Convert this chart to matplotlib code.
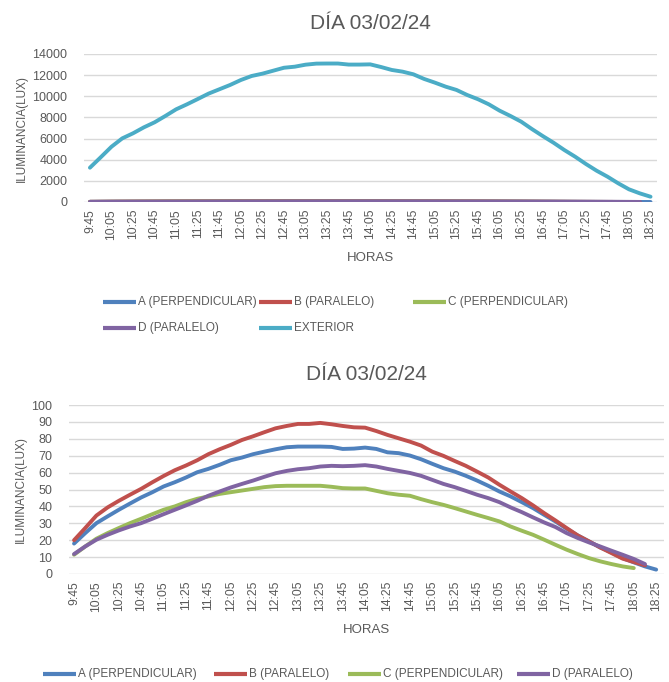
import numpy as np
import matplotlib
matplotlib.use("Agg")
import matplotlib.pyplot as plt
from matplotlib.lines import Line2D

plt.rcParams['font.family'] = ['Liberation Sans', 'DejaVu Sans']

# horas de medida (cada 10 minutos)
horas = ["9:45", "9:55", "10:05", "10:15", "10:25", "10:35", "10:45", "10:55",
         "11:05", "11:15", "11:25", "11:35", "11:45", "11:55", "12:05", "12:15",
         "12:25", "12:35", "12:45", "12:55", "13:05", "13:15", "13:25", "13:35",
         "13:45", "13:55", "14:05", "14:15", "14:25", "14:35", "14:45", "14:55",
         "15:05", "15:15", "15:25", "15:35", "15:45", "15:55", "16:05", "16:15",
         "16:25", "16:35", "16:45", "16:55", "17:05", "17:15", "17:25", "17:35",
         "17:45", "17:55", "18:05", "18:15", "18:25"]

nan = np.nan
a_perp = [18, 24.2, 30.1, 34.1, 38, 41.7, 45.3, 48.4, 51.8, 54.3, 57.1, 60.2, 62.2,
          64.6, 67.3, 68.9, 70.9, 72.4, 73.8, 75, 75.4, 75.4, 75.4, 75.2, 74, 74.2,
          74.8, 74, 72, 71.5, 70.1, 67.9, 65.2, 62.6, 60.6, 58.1, 55.3, 52.2, 48.8,
          45.9, 42.5, 39, 35, 31.1, 26.8, 22.8, 19.3, 15.7, 12.8, 9.4, 6.9, 4.5, 2.6]
b_para = [20, 27.2, 34.6, 39.4, 43.3, 46.9, 50.4, 54.3, 58, 61.4, 64.2, 67.3, 70.9,
          73.8, 76.4, 79.3, 81.5, 83.9, 86.2, 87.6, 88.8, 88.8, 89.4, 88.6, 87.6, 86.8,
          86.6, 84.6, 82.3, 80.3, 78.3, 76, 72.4, 69.9, 66.9, 64, 60.6, 57.1, 52.8,
          48.8, 44.9, 40.6, 36, 31.7, 27.2, 22.8, 19.3, 15.7, 12.4, 9.1, 7.1, 5.1, nan]
c_perp = [11.4, 16.3, 20.9, 24.2, 27.2, 30.1, 32.7, 35.4, 38, 40, 42.5, 44.5, 45.9,
          47.4, 48.4, 49.4, 50.4, 51.4, 52, 52.2, 52.2, 52.2, 52.2, 51.6, 50.8, 50.6,
          50.6, 49.2, 47.8, 46.9, 46.3, 44.3, 42.5, 40.9, 39, 37, 35, 33.1, 31.1,
          28.1, 25.6, 23.2, 20.3, 17.3, 14.4, 11.8, 9.4, 7.5, 5.9, 4.5, 3.5, nan, nan]
d_para = [11.8, 16.3, 20.3, 23.2, 25.8, 28.1, 30.1, 32.7, 35.4, 38, 40.6, 43.3, 46.3,
          48.8, 51.2, 53.3, 55.3, 57.5, 59.6, 61, 62, 62.6, 63.6, 64, 63.8, 64,
          64.4, 63.6, 62.2, 61, 59.8, 58.1, 55.7, 53.3, 51.4, 49.2, 46.9, 44.9, 42.5,
          39.4, 36.6, 33.5, 30.5, 27.8, 24.2, 21.3, 18.7, 16.3, 13.8, 11.4, 8.9, 5.9, nan]
exterior = [3245, 4230, 5230, 6020, 6500, 7060, 7540, 8140, 8770, 9240, 9740, 10250,
            10660, 11070, 11540, 11920, 12140, 12420, 12700, 12800, 12990, 13090, 13100,
            13100, 13000, 13000, 13020, 12770, 12490, 12330, 12080, 11640, 11290, 10910,
            10600, 10120, 9720, 9240, 8640, 8140, 7600, 6900, 6240, 5610, 4920, 4290,
            3600, 2960, 2400, 1770, 1200, 820, 500]

nombres = ["A (PERPENDICULAR)", "B (PARALELO)", "C (PERPENDICULAR)", "D (PARALELO)", "EXTERIOR"]
colores = ["#4F81BD", "#C0504D", "#9BBB59", "#8064A2", "#4BACC6"]
gris = "#595959"

W, H = 669, 682
fig = plt.figure(figsize=(W / 100, H / 100), dpi=100)


def px_axes(left, top, right, bottom):
    return fig.add_axes([left / W, 1 - bottom / H, (right - left) / W, (bottom - top) / H])


def estilo(ax, ymax, ystep, xlim):
    x = np.arange(len(horas))
    ax.set_xlim(*xlim)
    ax.set_ylim(0, ymax)
    ax.set_yticks(np.arange(0, ymax + 1, ystep))
    ax.set_xticks(x[::2])
    ax.set_xticklabels(horas[::2], rotation=90, fontsize=8.8, color=gris)
    ax.tick_params(axis='y', labelsize=9, colors=gris, length=0, pad=12)
    ax.tick_params(axis='x', length=0, pad=5)
    ax.grid(axis='y', color="#D9D9D9", lw=1)
    ax.set_axisbelow(True)
    for s in ax.spines.values():
        s.set_visible(False)
    ax.set_ylabel("ILUMINANCIA(LUX)", fontsize=8.5, color=gris, labelpad=3)
    ax.set_xlabel("HORAS", fontsize=9.5, color=gris, labelpad=9)
    ax.set_title("DÍA 03/02/24", fontsize=15, color=gris, pad=18)


def leyenda(items, y, xs):
    for (nombre, color), x0 in zip(items, xs):
        fig.add_artist(Line2D([x0 / W, (x0 + 33) / W], [1 - y / H, 1 - y / H],
                              color=color, lw=3, solid_capstyle='butt'))
        fig.text((x0 + 35) / W, 1 - y / H, nombre, fontsize=8.5, color=gris,
                 va='center', ha='left')


x = np.arange(len(horas))
series = [a_perp, b_para, c_perp, d_para, exterior]

# grafico superior
ax1 = px_axes(84, 54, 657, 202)
for vals, c in zip(series, colores):
    ax1.plot(x, vals, color=c, lw=2.8, solid_capstyle='round')
estilo(ax1, 14000, 2000, (-0.55, 52.6))
leyenda(list(zip(nombres, colores))[:3], 302, [103, 259, 413])
leyenda(list(zip(nombres, colores))[3:], 328, [103, 259])

# grafico inferior
ax2 = px_axes(69, 405, 664, 574)
for vals, c in zip(series[:4], colores[:4]):
    ax2.plot(x, vals, color=c, lw=2.8, solid_capstyle='round')
estilo(ax2, 100, 10, (-0.45, 52.7))
leyenda(list(zip(nombres, colores))[:4], 674, [43, 214, 348, 517])

fig.savefig("out.png", dpi=100)
